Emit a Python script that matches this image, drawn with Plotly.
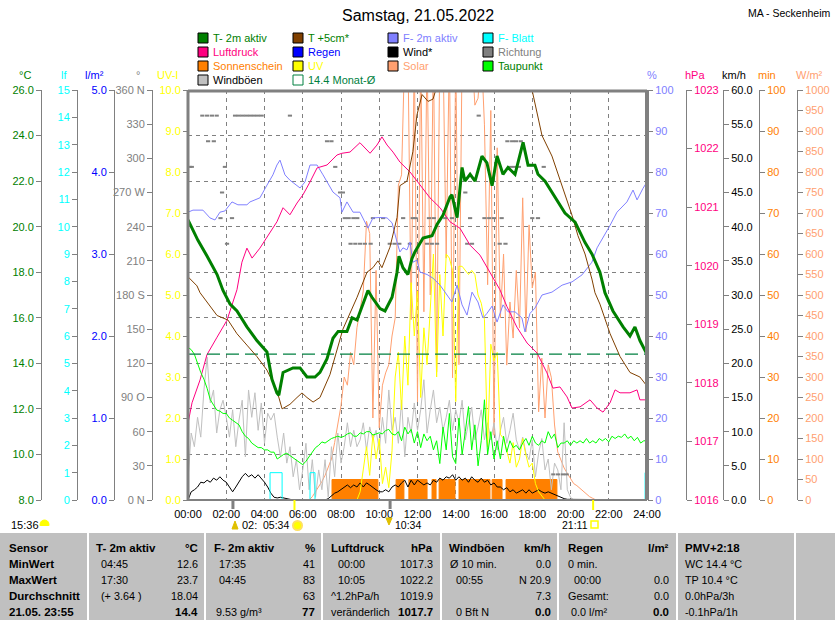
import plotly.graph_objects as go

# ---------------- data ----------------
hours10 = [i / 6 for i in range(145)]  # 10-minute grid 00:00 .. 24:00

t2m_t = [0, 0.52, 1.0, 1.52, 1.83, 2.20, 2.56, 3.08, 3.60, 4.13, 4.39, 4.65, 4.75, 4.97, 5.49, 5.86,
         6.22, 6.64, 6.90, 7.27, 7.58, 7.85, 8.31, 8.58, 8.84, 9.15, 9.41, 9.62, 10.04, 10.30, 10.67,
         10.93, 11.03, 11.24, 11.50, 11.71, 11.87, 12.29, 12.76, 13.02, 13.33, 13.70, 13.80, 14.07,
         14.33, 14.48, 14.75, 15.01, 15.37, 15.63, 15.90, 16.16, 16.47, 16.73, 17.10, 17.52, 17.78,
         18.14, 18.30, 18.67, 19.19, 19.71, 20.24, 20.76, 21.12, 21.54, 21.80, 22.22, 22.75, 23.11,
         23.37, 23.63, 24.0]
t2m_v = [20.3, 19.4, 18.7, 17.9, 17.2, 16.6, 16.3, 15.6, 15.0, 14.5, 13.3, 12.7, 12.6, 13.6, 13.8, 13.8,
         13.4, 13.4, 13.6, 14.2, 15.1, 15.4, 15.4, 16.0, 15.9, 16.6, 17.2, 16.9, 16.4, 16.3, 16.9,
         18.0, 18.7, 18.2, 17.9, 18.6, 18.9, 19.5, 19.6, 20.1, 20.5, 21.3, 21.4, 20.4,
         22.6, 22.0, 22.3, 22.0, 23.1, 22.8, 21.8, 23.1, 22.3, 22.6, 22.3, 23.7, 22.7,
         22.7, 22.3, 22.0, 21.3, 20.6, 20.2, 19.3, 18.8, 18.0, 17.1, 16.3, 15.6, 15.2,
         15.6, 15.0, 14.4]

t5_t = [0, 0.47, 0.63, 1.52, 2.09, 2.56, 3.08, 3.60, 4.13, 4.65, 4.92, 5.33, 5.70, 5.96, 6.22, 6.54,
        6.90, 7.42, 8.10, 8.84, 9.36, 9.67, 9.93, 10.14, 10.56, 10.93, 11.08, 11.45, 11.76, 11.97,
        12.24, 12.55, 12.81, 13.02, 13.5, 14.5, 15.5, 16.5, 17.3, 17.99, 18.30, 18.51, 19.03, 19.35,
        19.71, 20.08, 20.39, 20.76, 21.12, 21.28, 21.54, 22.07, 22.59, 23.11, 23.63, 24.0]
t5_v = [17.8, 17.4, 17.1, 16.1, 15.9, 15.3, 14.8, 14.3, 13.7, 12.8, 12.0, 12.2, 12.5, 12.7, 12.5, 12.3,
        12.5, 13.5, 15.5, 16.9, 18.0, 18.2, 18.5, 18.2, 19.1, 20.4, 21.8, 22.0, 23.3, 24.9,
        25.8, 25.5, 25.6, 26.2, 27.5, 28.5, 28.8, 28.0, 27.0, 26.0, 24.8, 24.0, 23.1, 22.3,
        21.4, 20.5, 19.6, 18.8, 17.7, 17.1, 16.6, 15.3, 14.3, 13.6, 13.4, 13.0]

hum_t = [0, 0.26, 0.78, 1.15, 1.41, 1.67, 1.93, 2.30, 2.61, 3.08, 3.24, 3.76, 4.13, 4.44, 4.65, 4.81,
         5.07, 5.33, 5.86, 6.12, 6.38, 6.75, 7.06, 7.58, 7.95, 8.05, 8.31, 8.63, 8.99, 9.15, 9.41,
         9.67, 10.04, 10.41, 10.67, 10.93, 11.08, 11.24, 11.45, 11.61, 11.76, 11.97, 12.13, 12.50,
         12.81, 13.18, 13.44, 13.80, 14.07, 14.33, 14.59, 14.85, 15.16, 15.42, 15.63, 15.90, 16.16,
         16.47, 16.73, 17.10, 17.46, 17.62, 17.88, 18.14, 18.51, 19.03, 19.56, 20.08, 20.60, 21.12,
         21.39, 21.70, 22.07, 22.43, 22.95, 23.27, 23.48, 23.79, 24.0]
hum_v = [70.2, 70.7, 70.7, 68.8, 68.3, 70.2, 70.5, 72.7, 72.0, 72.0, 72.7, 73.7, 76.8, 79.3, 81.7, 82.9,
         79.3, 78.0, 76.1, 77.6, 81.7, 81.7, 79.3, 75.1, 73.7, 70.2, 72.7, 70.2, 70.2, 68.8, 66.3,
         68.8, 68.9, 68.8, 67.6, 62.9, 60.5, 61.5, 61.0, 62.9, 58.0, 58.5, 55.6, 55.0,
         54.1, 52.4, 50.7, 48.3, 52.4, 47.6, 45.1, 50.7, 48.3, 44.4, 45.5, 47.3, 43.4,
         47.6, 45.9, 45.9, 44.4, 41.0, 45.5, 46.8, 50.0, 50.7, 52.4, 53.2, 54.9, 58.0,
         61.5, 63.9, 67.0, 70.2, 72.7, 75.6, 73.2, 76.0, 77.6]

press_t = [0, 0.21, 0.63, 0.99, 1.52, 2.04, 2.56, 2.82, 3.08, 3.35, 3.76, 4.13, 4.65, 4.97, 5.33, 5.70,
           6.01, 6.38, 6.75, 7.27, 7.79, 8.05, 8.47, 8.99, 9.52, 9.88, 10.14, 10.41, 10.72, 11.08,
           11.61, 12.13, 12.65, 13.18, 13.70, 14.22, 14.75, 15.27, 15.79, 16.16, 16.31, 16.68, 17.20,
           17.73, 18.25, 18.77, 19.08, 19.45, 19.82, 20.08, 20.50, 21.02, 21.39, 21.70, 22.07, 22.33,
           22.59, 23.11, 23.48, 23.63, 24.0]
press_v = [1017.31, 1017.66, 1018.05, 1018.48, 1018.78, 1019.07, 1019.59, 1020.06, 1020.30, 1020.13,
           1020.30, 1020.49, 1020.75, 1020.99, 1020.87, 1021.07, 1021.21, 1021.43, 1021.67, 1021.72,
           1021.89, 1021.92, 1021.94, 1022.10, 1021.92, 1022.06, 1022.20, 1022.06, 1021.94, 1021.77,
           1021.60, 1021.38, 1021.16, 1020.99, 1020.75, 1020.64, 1020.35, 1020.18, 1019.89, 1019.67,
           1019.59, 1019.30, 1018.95, 1018.68, 1018.51, 1018.17, 1017.91, 1017.93, 1017.76, 1017.57,
           1017.59, 1017.71, 1017.57, 1017.50, 1017.66, 1017.88, 1017.83, 1017.83, 1017.88, 1017.71,
           1017.71]

gust = [2.9, 9.8, 7.8, 12.1, 9.2, 16.1,
        20.9, 14.2, 16.1, 9.8, 13.2, 14.6,
        12.1, 9.2, 13.2, 7.8, 11.7, 14.6,
        6.3, 16.1, 12.1, 15.7, 10.2, 14.2,
        8.3, 12.7, 11.7, 12.7, 9.2, 6.3,
        9.8, 5.4, 7.8, 3.4, 5.9, 1.5,
        4.4, 8.3, 1.5, 5.9, 0.4, 4.4,
        1.5, 5.9, 0.4, 7.8, 3.4, 9.8,
        5.4, 7.8, 11.3, 7.8, 10.2, 7.8,
        8.8, 11.3, 7.3, 10.7, 8.8, 10.2,
        7.3, 12.1, 8.3, 16.1, 10.2, 12.1,
        8.3, 14.6, 6.3, 12.1, 9.8, 14.2,
        10.2, 13.2, 17.6, 9.8, 13.2, 16.1,
        11.3, 13.6, 10.2, 12.1, 14.6, 10.2,
        13.2, 11.3, 14.6, 8.8, 11.3, 13.6,
        8.8, 10.7, 13.2, 8.8, 11.3, 8.8,
        11.3, 7.3, 10.2, 12.1, 8.3, 10.2,
        12.7, 8.8, 7.3, 9.2, 6.9, 5.9,
        8.8, 3.4, 6.9, 9.0, 4.4, 6.0,
        1.5, 5.4, 4.4, 1.5, 11.3, 1.5,
        0.4, 0, 0, 0, 0, 0,
        0, 0, 0, 0, 0, 0,
        0, 0, 0, 0, 0, 0,
        0, 0, 0, 0, 0, 0,
        0]

wind = [0, 1.2, 1.5, 1.9, 2.6, 2.5,
        2.9, 2.6, 3.2, 2.9, 3.4, 2.9,
        2.6, 1.9, 1.2, 1.9, 2.6, 3.4,
        3.9, 3.4, 3.7, 3.2, 3.7, 3.2,
        2.6, 1.9, 1.0, 0.4, 0.3, 0.4,
        0.3, 0.1, 0, 0, 0, 0,
        0, 0, 0, 0, 0, 0,
        0, 0, 0.2, 0.6, 1.0, 1.2,
        1.5, 1.8, 2.2, 1.8, 2.2, 1.9,
        2.5, 1.9, 2.5, 2.2, 1.8, 1.5,
        1.2, 1.2, 1.5, 1.2, 1.9, 2.2,
        1.9, 2.5, 2.9, 1.9, 2.9, 2.2,
        2.9, 2.5, 2.2, 2.5, 2.2, 2.9,
        2.6, 3.2, 2.9, 3.4, 3.2, 3.7,
        2.9, 3.4, 2.9, 3.2, 2.6, 3.4,
        2.9, 2.6, 3.2, 2.6, 2.9, 2.2,
        2.5, 1.9, 1.9, 1.5, 1.8, 1.2,
        1.5, 1.0, 1.2, 1.5, 1.0, 1.5,
        1.0, 1.2, 1.5, 1.2, 1.0, 1.2,
        1.0, 0.8, 0.6, 0.3, 0.2, 0.1,
        0.1, 0, 0, 0, 0, 0,
        0, 0, 0, 0, 0, 0,
        0, 0, 0, 0, 0, 0,
        0, 0, 0, 0, 0, 0,
        0]

dew = [14.7, 14.6, 14.4, 14.0, 13.6, 13.3,
       12.9, 12.4, 12.2, 11.95, 11.9, 11.8,
       11.8, 11.6, 11.5, 11.4, 11.3, 11.0,
       10.8, 10.7, 10.5, 10.4, 10.3, 10.3,
       10.2, 10.2, 10.1, 10.1, 9.8, 9.9,
       10.0, 10.05, 9.95, 9.85, 9.75, 9.67,
       9.55, 9.7, 9.9, 10.1, 10.3, 10.4,
       10.55, 10.5, 10.6, 10.7, 10.75, 10.8,
       10.75, 10.8, 10.9, 10.95, 10.8, 10.8,
       10.95, 10.9, 11.0, 11.0, 10.85, 10.9,
       10.95, 10.9, 11.05, 11.1, 10.9, 10.85,
       11.0, 10.6, 11.2, 10.9, 11.1, 10.5,
       11.0, 10.3, 10.9, 10.6, 10.8, 10.2,
       10.6, 9.6, 11.2, 10.2, 11.8, 9.9,
       9.6, 11.6, 10.0, 11.0, 12.1, 10.2,
       11.3, 9.5, 10.6, 12.4, 10.0, 11.0,
       9.8, 10.6, 9.8, 10.8, 10.1, 10.6,
       10.3, 10.4, 10.2, 10.5, 10.7, 10.4,
       10.8, 10.5, 10.4, 10.6, 10.5, 11.0,
       10.7, 10.9, 10.3, 10.5, 10.5, 10.6,
       10.4, 10.6, 10.5, 10.6, 10.5, 10.7,
       10.5, 10.6, 10.5, 10.7, 10.6, 10.7,
       10.55, 10.8, 10.7, 10.8, 10.75, 10.9,
       10.7, 10.8, 10.6, 10.75, 10.5, 10.6,
       10.6]

uv = [0, 0, 0, 0, 0, 0,
      0, 0, 0, 0, 0, 0,
      0, 0, 0, 0, 0, 0,
      0, 0, 0, 0, 0, 0,
      0, 0, 0, 0, 0, 0,
      0, 0, 0, 0, 0, 0,
      0, 0, 0, 0, 0, 0,
      0, 0, 0, 0, 0, 0,
      0, 0, 0, 0, 0, 0,
      0.2, 0.8, 1.3, 0.6, 1.6, 1.0,
      1.5, 0.4, 0.8, 0.3, 1.2, 3.0,
      3.6, 2.2, 4.0, 2.8, 5.3, 4.0,
      5.1, 2.5, 4.2, 3.3, 4.6, 6.0,
      3.0, 5.5, 4.0, 6.0, 5.9, 5.6,
      2.4, 5.7, 5.7, 5.6, 5.5, 5.6,
      5.5, 5.0, 4.8, 4.4, 1.3, 3.8,
      3.4, 3.6, 1.6, 1.5, 1.2, 0.9,
      1.4, 0.8, 1.0, 1.5, 1.1, 0.8,
      0.9, 0.4, 0.2, 0.1, 0, 0,
      0, 0, 0, 0, 0, 0,
      0, 0, 0, 0, 0, 0,
      0, 0, 0, 0, 0, 0,
      0, 0, 0, 0, 0, 0,
      0, 0, 0, 0, 0, 0,
      0]

solar = [0, 0, 0, 0, 0, 0,
         0, 0, 0, 0, 0, 0,
         0, 0, 0, 0, 0, 0,
         0, 0, 0, 0, 0, 0,
         0, 0, 0, 0, 0, 0,
         0, 0, 0, 0, 0, 0,
         0, 0, 0, 8, 20, 30,
         45, 60, 80, 100, 140, 185,
         230, 300, 280, 360, 330, 420,
         470, 510, 680, 650, 200, 560,
         176, 280, 310, 330, 400, 444,
         768, 793, 1100, 1100, 440, 1100,
         239, 1100, 459, 1100, 500, 1100,
         312, 1100, 1100, 590, 1100, 298,
         1100, 330, 1100, 1100, 1100, 1100,
         963, 980, 1100, 915, 525, 950,
         158, 859, 444, 600, 329, 483,
         395, 560, 420, 737, 410, 671,
         517, 556, 215, 346, 200, 330,
         298, 183, 117, 95, 78, 65,
         54, 40, 35, 28, 22, 14,
         8, 4, 0, 0, 0, 0,
         0, 0, 0, 0, 0, 0,
         0, 0, 0, 0, 0, 0,
         0]

# sunshine minutes (change points, step "hv")
sun_t = [0, 7.53, 9.93, 10.88, 11.29, 11.55, 12.50, 12.76, 12.97, 13.13, 13.96, 14.17, 15.79,
         15.90, 16.42, 16.63, 19.29, 24.0]
sun_v = [0, 5, 0, 5, 0, 5, 0, 5, 0, 5, 0, 5, 0, 5, 0, 5, 0, 0]

# leaf wetness (change points, step "hv")
leaf_t = [0, 4.29, 4.92, 6.38, 6.64, 23.9, 24.0]
leaf_v = [0, 1, 0, 1, 0, 1, 1]

rain_t = [0, 24]
rain_v = [0, 0]

month_t = [0, 24]
month_v = [14.4, 14.4]

dir_t = [0.10, 0.20, 0.75, 1.00, 1.05, 1.25, 1.35, 1.50, 1.70, 1.78, 1.93, 2.04, 2.30, 2.46, 2.65,
         2.85, 3.05, 3.25, 3.45, 3.65, 3.85, 5.33, 7.27, 7.50, 7.70, 7.95, 8.10, 8.20, 8.40, 8.50,
         8.65, 8.75, 8.85, 9.00, 9.25, 9.55, 9.67, 10.20, 10.55, 10.80, 11.05, 11.25, 11.60, 11.75,
         11.90, 12.50, 12.60, 12.75, 12.85, 13.02, 13.45, 13.80, 14.50, 14.60, 14.75, 14.85, 15.20,
         15.50, 15.75, 16.00, 16.30, 16.40, 16.60, 16.70, 16.85, 16.95, 17.05, 17.15, 17.30, 17.40,
         18.00, 18.30, 18.60, 19.10, 19.35, 19.60, 19.80]
dir_v = [292.5, 292.5, 337.5, 337.5, 315, 337.5, 315, 337.5, 247.5, 270, 292.5, 225, 247.5, 337.5, 337.5,
         337.5, 337.5, 337.5, 337.5, 337.5, 337.5, 337.5, 315, 315, 292.5, 270, 270, 247.5, 247.5, 225,
         247.5, 225, 247.5, 225, 225, 225, 247.5, 247.5, 225, 225, 225, 247.5, 225, 247.5,
         247.5, 225, 247.5, 225, 247.5, 225, 247.5, 247.5, 270, 225, 247.5, 225, 337.5,
         247.5, 247.5, 247.5, 225, 247.5, 225, 315, 292.5, 315, 292.5, 315, 292.5, 315,
         247.5, 247.5, 292.5, 22.5, 22.5, 22.5, 22.5]

# sun / moon events on the time axis
moon_events = [2.35, 10.567]
sun_events = [5.567, 21.183]

x_ticks = list(range(0, 25, 2))
x_labels = ["%02d:00" % h for h in x_ticks]
dir_ticks = list(range(0, 361, 30))
dir_labels = ["0 N", "30", "60", "90 O", "120", "150", "180 S", "210", "240", "270 W", "300", "330", "360 N"]

# ---------------- styling / layout helpers ----------------
FONT = "Liberation Sans"
GRAY = "#808080"
W, H = 835, 620
PX0, PX1, PY0, PY1 = 188, 647, 90, 500


def fx(p):
    return p / W


def fy(p):
    return (PY1 - p) / (PY1 - PY0)


fig = go.Figure()


def line(x, y, axis, color, width=1, **kw):
    fig.add_trace(go.Scatter(x=x, y=y, yaxis=axis, mode="lines",
                             line=dict(color=color, width=width, **kw.pop("ld", {})),
                             hoverinfo="skip", showlegend=False, **kw))


line(sun_t, sun_v, "y", "#FF8000", 1, ld=dict(shape="hv"), fill="tozeroy", fillcolor="#FF8000")
line(hours10, solar, "y2", "#FFA070", 1)
line(hours10, gust, "y3", "#C0C0C0", 1)
line(hours10, wind, "y3", "#000000", 1)
line(hours10, uv, "y4", "#FFFF00", 1)
line(leaf_t, leaf_v, "y5", "#00FFFF", 1, ld=dict(shape="hv"))
fig.add_trace(go.Scatter(x=dir_t, y=dir_v, yaxis="y6", mode="markers",
                         marker=dict(symbol="line-ew", size=3, line=dict(color=GRAY, width=2)),
                         hoverinfo="skip", showlegend=False))
line(rain_t, rain_v, "y7", "#0000FF", 1)
line(hum_t, hum_v, "y8", "#8080FF", 1)
line(press_t, press_v, "y9", "#FF0080", 1)
line(hours10, dew, "y10", "#00FF00", 1)
line(month_t, month_v, "y10", "#008040", 1.3, ld=dict(dash="13px,6px"))
line(t5_t, t5_v, "y10", "#804000", 1)
line(t2m_t, t2m_v, "y10", "#008000", 3)


def yax(pos, side, rng, dtick, color, fmt, overlay=True, **extra):
    d = dict(range=rng, anchor="free", position=pos, side=side, showline=True, linecolor=GRAY,
             linewidth=1, ticks="outside", ticklen=5, tickcolor=GRAY, tickwidth=1, showgrid=False,
             zeroline=False, tick0=rng[0], dtick=dtick, tickformat=fmt, automargin=False,
             tickfont=dict(color=color, size=11, family=FONT), fixedrange=True)
    if overlay:
        d["overlaying"] = "y"
    d.update(extra)
    return d


layout = dict(
    width=W, height=H, margin=dict(l=0, r=0, t=PY0, b=H - PY1, pad=0, autoexpand=False),
    paper_bgcolor="white", plot_bgcolor="white", showlegend=False,
    font=dict(family=FONT, size=11, color="black"),
    xaxis=dict(domain=[fx(PX0), fx(PX1)], range=[0, 24], tickmode="array", tickvals=x_ticks,
               ticktext=x_labels, showgrid=True, gridcolor=GRAY, gridwidth=1, griddash="4px,4px",
               zeroline=False, showline=False, ticks="outside", ticklen=4, automargin=False,
               tickcolor="rgba(0,0,0,0)", tickfont=dict(size=11, family=FONT, color="black"),
               fixedrange=True, anchor="y"),
    yaxis=yax(fx(759), "right", [0, 100], 10, "#FF8000", "d", overlay=False),
    yaxis2=yax(fx(797), "right", [0, 1000], 50, "#FFA070", "d"),
    yaxis3=yax(fx(723), "right", [0, 60], 5, "#000000", ".1f"),
    yaxis4=yax(fx(PX0), "left", [0, 10], 1, "#FFFF00", ".1f"),
    yaxis5=yax(fx(77), "left", [0, 15], 1, "#00FFFF", "d"),
    yaxis6=yax(fx(152), "left", [0, 360], 30, GRAY, None, tickmode="array", tickvals=dir_ticks,
               ticktext=dir_labels),
    yaxis7=yax(fx(114), "left", [0, 5], 1, "#0000FF", ".1f"),
    yaxis8=yax(fx(PX1), "right", [0, 100], 10, "#8080FF", "d"),
    yaxis9=yax(fx(686), "right", [1016, 1023], 1, "#FF0080", "d"),
    yaxis10=yax(fx(41), "left", [8, 26], 2, "#008000", ".1f", showgrid=True, gridcolor=GRAY,
                gridwidth=1, griddash="4px,4px"),
)
fig.update_layout(**layout)

shapes = []
annots = []


def txt(x, y, s, color="black", size=11, anchor="left", bold=False, yanchor="middle"):
    annots.append(dict(x=fx(x), y=fy(y), xref="paper", yref="paper", text=("<b>%s</b>" % s) if bold else s,
                       showarrow=False, xanchor=anchor, yanchor=yanchor, borderpad=0,
                       font=dict(family=FONT, size=size, color=color)))


def rect(x0, y0, x1, y1, fill=None, line_c=None, lw=1):
    shapes.append(dict(type="rect", xref="paper", yref="paper", x0=fx(x0), x1=fx(x1), y0=fy(y0), y1=fy(y1),
                       fillcolor=fill if fill else "rgba(0,0,0,0)",
                       line=dict(color=line_c if line_c else "rgba(0,0,0,0)", width=lw), layer="above"))


def seg(x0, y0, x1, y1, color, w):
    shapes.append(dict(type="line", xref="paper", yref="paper", x0=fx(x0), x1=fx(x1), y0=fy(y0), y1=fy(y1),
                       line=dict(color=color, width=w), layer="above"))


def tri(pts, color):
    path = "M " + " L ".join("%f,%f" % (fx(a), fy(b)) for a, b in pts) + " Z"
    shapes.append(dict(type="path", xref="paper", yref="paper", path=path, fillcolor=color,
                       line=dict(color=color, width=1), layer="above"))


# plot frame
seg(PX0, PY0, PX0, PY1, GRAY, 3)
seg(PX0, PY0 + 1, PX1, PY0 + 1, GRAY, 3)
seg(PX1, PY0, PX1, PY1, GRAY, 4)
seg(PX0, PY1, PX1, PY1, GRAY, 2)

# title
txt(418, 15, "Samstag, 21.05.2022", size=16, anchor="center")
txt(832, 13, "MA - Seckenheim", size=10.5, anchor="right")

# axis titles
for x, s, c in [(25, "°C", "#008000"), (64, "lf", "#00FFFF"), (94, "l/m²", "#0000FF"), (138, "°", GRAY),
                (167, "UV-I", "#FFFF00"), (652, "%", "#8080FF"), (695, "hPa", "#FF0080"),
                (734, "km/h", "#000000"), (767, "min", "#FF8000"), (809, "W/m²", "#FFA070")]:
    txt(x, 75, s, color=c, anchor="center")

# legend
leg_cols = [198, 293, 388, 483]
leg_rows = [38, 52, 66, 80]
legend_items = [
    (0, 0, "T- 2m aktiv", "#008000", "#008000"), (1, 0, "T +5cm*", "#804000", "#008000"),
    (2, 0, "F- 2m aktiv", "#8080FF", "#8080FF"), (3, 0, "F- Blatt", "#00FFFF", "#00FFFF"),
    (0, 1, "Luftdruck", "#FF0080", "#FF0080"), (1, 1, "Regen", "#0000FF", "#0000FF"),
    (2, 1, "Wind*", "#000000", "#000000"), (3, 1, "Richtung", GRAY, GRAY),
    (0, 2, "Sonnenschein", "#FF8000", "#FF8000"), (1, 2, "UV", "#FFFF00", "#FFFF00"),
    (2, 2, "Solar", "#FFA070", "#FFA070"), (3, 2, "Taupunkt", "#00FF00", "#008000"),
    (0, 3, "Windböen", "#C0C0C0", "#000000"),
]
for c, r, s, fill, tcol in legend_items:
    x, y = leg_cols[c], leg_rows[r]
    rect(x, y - 5, x + 10, y + 5, fill=fill, line_c="black", lw=1)
    txt(x + 14, y, s, color=tcol)
x, y = leg_cols[1], leg_rows[3]
rect(x, y - 5, x + 10, y + 5, line_c="#008040", lw=1)
txt(x + 14, y, "14.4 Monat-Ø", color="#008040")

# sun / moon markers on the time axis
for t in moon_events:
    shapes.append(dict(type="line", xref="x", yref="paper", x0=t, x1=t, y0=fy(500), y1=fy(509),
                       line=dict(color=GRAY, width=3), layer="above"))
for t in sun_events:
    shapes.append(dict(type="line", xref="x", yref="paper", x0=t, x1=t, y0=fy(500), y1=fy(510),
                       line=dict(color="#FFFF00", width=2), layer="above"))
txt(10, 525, "15:36")
shapes.append(dict(type="circle", xref="paper", yref="paper", x0=fx(40), x1=fx(49), y0=fy(520), y1=fy(529),
                   fillcolor="#FFFF00", line=dict(color="#FFFF00", width=1), layer="above"))
rect(38, 526, 51, 531, fill="white")
tri([(232, 529), (238, 529), (235, 521)], "#E0C000")
txt(241, 525, "02:")
txt(262, 525, "05:34", size=10.5)
shapes.append(dict(type="circle", xref="paper", yref="paper", x0=fx(293), x1=fx(302), y0=fy(521), y1=fy(530),
                   fillcolor="#FFFF00", line=dict(color="#FFE060", width=2), layer="above"))
tri([(386, 518), (392, 518), (389, 525)], "#E0C000")
txt(394, 525, "10:34", size=10.5)
txt(561, 525, "21:11", size=10.5)
rect(591, 521, 598, 528, line_c="#FFFF00", lw=1.5)

# ---- bottom table ----
rect(0, 533, 835, 620, fill="#C0C0C0")
for xs in [88, 205, 322, 441, 558, 677, 795]:
    seg(xs, 533, xs, 620, "white", 2)
rows = [548, 564, 580, 596, 612]
for s, y in zip(["Sensor", "MinWert", "MaxWert", "Durchschnitt", "21.05. 23:55"], rows):
    txt(8, y, s, bold=True, size=11.5)

table = [
    (95, "T- 2m aktiv", 199, "°C", [(100, "04:45"), (100, "17:30"), (100, "(+ 3.64 )"), (100, "")],
     ["12.6", "23.7", "18.04", "14.4"]),
    (213, "F- 2m aktiv", 316, "%", [(218, "17:35"), (218, "04:45"), (218, ""), (215, "9.53 g/m³")],
     ["41", "83", "63", "77"]),
    (330, "Luftdruck", 434, "hPa", [(337, "00:00"), (337, "10:05"), (330, "^1.2hPa/h"), (330, "veränderlich")],
     ["1017.3", "1022.2", "1019.9", "1017.7"]),
    (448, "Windböen", 552, "km/h", [(449, "Ø 10 min."), (455, "00:55"), (455, ""), (455, "0 Bft N")],
     ["0.0", "N 20.9", "7.3", "0.0"]),
    (567, "Regen", 670, "l/m²", [(567, "0 min."), (573, "00:00"), (567, "Gesamt:"), (570, "0.0 l/m²")],
     ["", "0.0", "0.0", "0.0"]),
]
for hx, head, ux, unit, lefts, rights in table:
    txt(hx, rows[0], head, bold=True, size=11.5)
    txt(ux, rows[0], unit, bold=True, anchor="right", size=11.5)
    for (lx, ls), y in zip(lefts, rows[1:]):
        if ls:
            txt(lx, y, ls, size=10.8)
    for i, (rs, y) in enumerate(zip(rights, rows[1:])):
        if rs:
            txt(ux, y, rs, anchor="right", bold=(i == 3), size=11.5 if i == 3 else 10.8)
txt(684, rows[0], "PMV+2:18", bold=True, size=11.5)
for s, y in zip(["WC 14.4 °C", "TP 10.4 °C", "0.0hPa/3h", "-0.1hPa/1h"], rows[1:]):
    txt(684, y, s, size=10.8)

fig.update_layout(shapes=shapes, annotations=annots)
fig.write_html("out.html", config={"displayModeBar": False},
               post_script="document.body.style.margin='0px';document.body.style.overflow='hidden';")
